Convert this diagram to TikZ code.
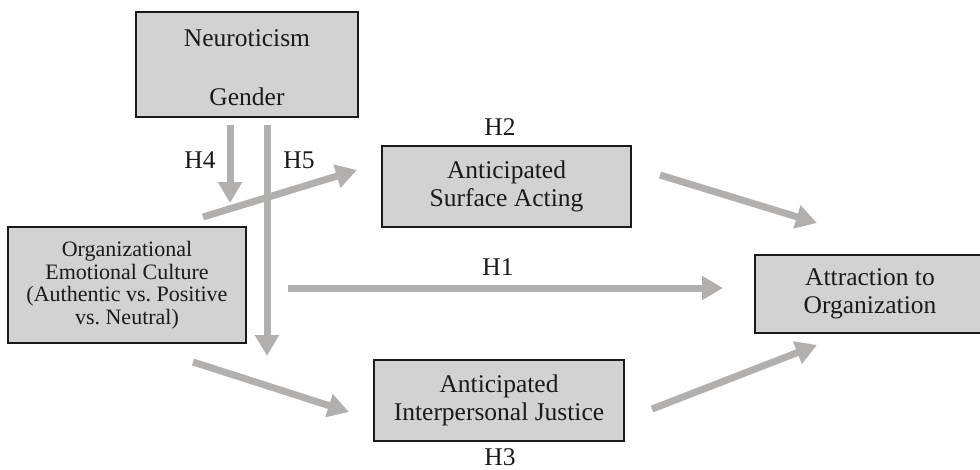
\documentclass[tikz,border=0pt]{standalone}
\usepackage{fontspec}
\setmainfont{Liberation Serif}
\usetikzlibrary{arrows.meta}
\definecolor{boxgray}{HTML}{D3D2D2}
\definecolor{arrowgray}{HTML}{B2AFAF}
\definecolor{inkc}{HTML}{1A1A1A}
\tikzset{
  box/.style={draw=inkc, line width=1.2pt, fill=boxgray, inner sep=0pt, align=center, text=inkc,
    font=\fontsize{25.5}{28.5}\selectfont},
  lbl/.style={inner sep=0pt, text=inkc, font=\fontsize{25.5}{28.5}\selectfont},
  garrow/.style={draw=arrowgray, line width=7pt, -{Triangle[length=21pt,width=23pt,fill=arrowgray]}},
  gline/.style={draw=arrowgray, line width=7pt}
}
\begin{document}
\begin{tikzpicture}[x=1pt,y=-1pt]
\useasboundingbox (0,0) rectangle (980,469);
% boxes
\node[box, minimum width=222pt, minimum height=105pt] (neuro) at (247,64.5) {};
\node[lbl] (neurot) at (247,38) {Neuroticism};
\node[lbl] (gender) at (247,97) {Gender};
\node[box, minimum width=238pt, minimum height=116pt, font=\fontsize{22}{22.5}\selectfont] (org) at (127,285)
  {Organizational\\Emotional Culture\\(Authentic vs.\ Positive\\vs.\ Neutral)};
\node[box, minimum width=249pt, minimum height=81pt] (surf) at (506.5,186.5) {Anticipated\\Surface Acting};
\node[box, minimum width=250pt, minimum height=81pt] (just) at (499,400.5) {Anticipated\\Interpersonal Justice};
\node[box, minimum width=230pt, minimum height=78pt] (attr) at (870,294) {Attraction to\\Organization};
% labels
\node[lbl] (h1) at (498,267) {H1};
\node[lbl] (h2) at (500,127) {H2};
\node[lbl] (h3) at (500,457.5) {H3};
\node[lbl] (h4) at (200,160) {H4};
\node[lbl] (h5) at (299,160) {H5};
% arrow end points
\coordinate (h4s) at (230,125);
\coordinate (h4e) at (230,203);
\coordinate (h5s) at (267,125);
\coordinate (h5e) at (267,356);
\coordinate (d1s) at (203,217);
\coordinate (d1e) at (357,170);
\coordinate (d2s) at (193,362);
\coordinate (d2e) at (349,412);
\coordinate (h1s) at (288,288);
\coordinate (h1e) at (723,288);
\coordinate (d3s) at (660,175);
\coordinate (d3e) at (817,223);
\coordinate (d4s) at (652,409);
\coordinate (d4e) at (817,345);
% arrows
\draw[garrow] (h4s) -- (h4e);
\draw[garrow] (d1s) -- (d1e);
\draw[garrow] (h5s) -- (h5e);
\draw[garrow] (d2s) -- (d2e);
\draw[garrow] (h1s) -- (h1e);
\draw[garrow] (d3s) -- (d3e);
\draw[garrow] (d4s) -- (d4e);
\end{tikzpicture}
\end{document}
